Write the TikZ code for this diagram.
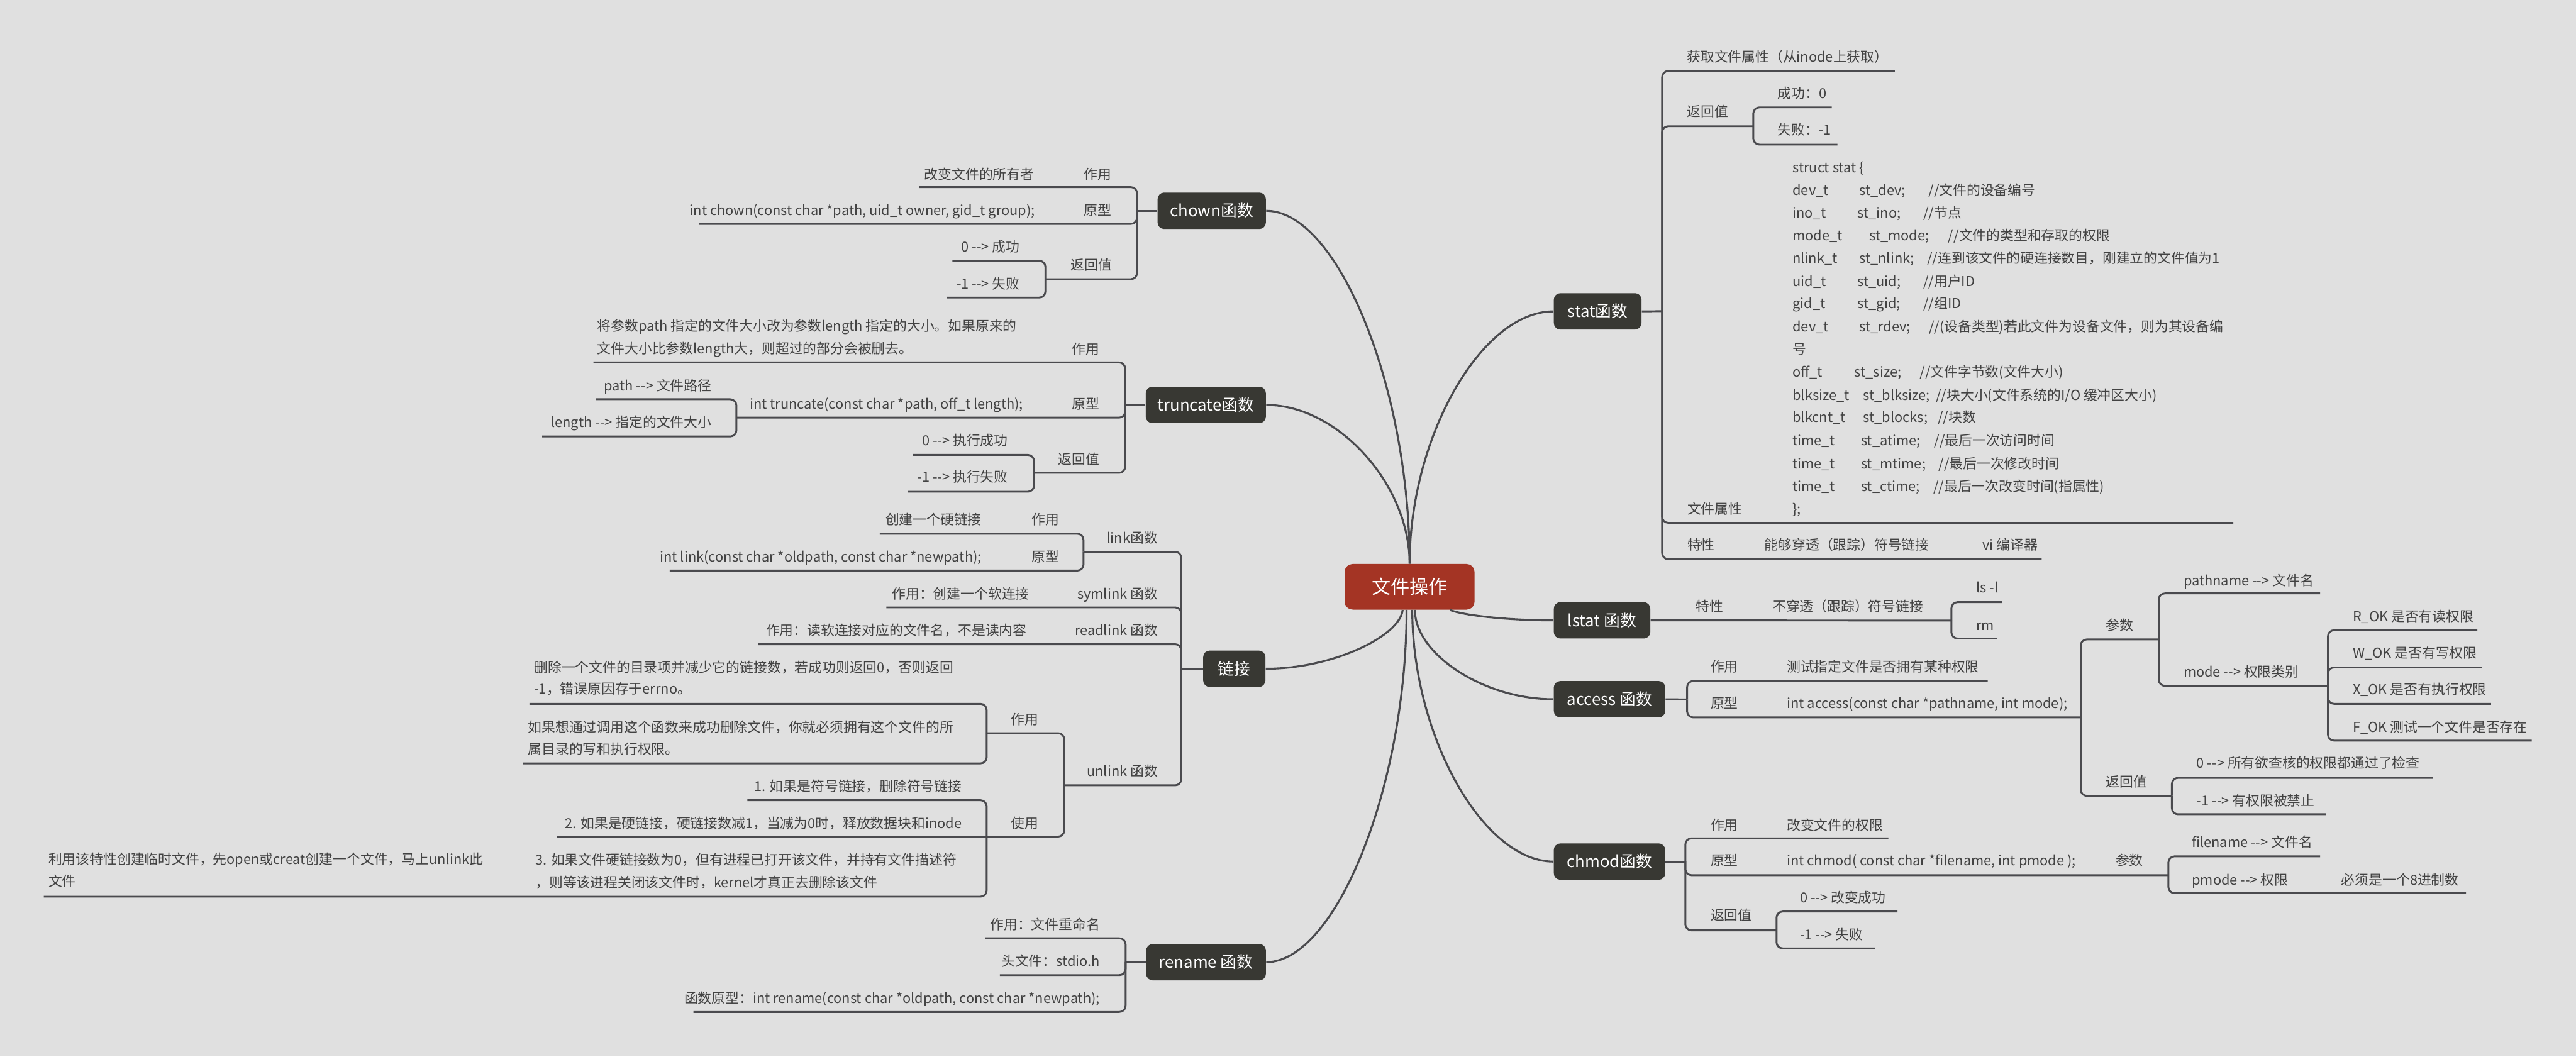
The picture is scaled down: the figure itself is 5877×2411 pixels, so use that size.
\documentclass[tikz,border=0pt]{standalone}
\usepackage{fontspec}
\setmainfont{Noto Sans CJK SC}[Ligatures=TeXOff]
\usetikzlibrary{calc}
\definecolor{bgc}{RGB}{224,224,224}
\definecolor{linec}{RGB}{74,74,78}
\definecolor{nodec}{RGB}{56,56,51}
\definecolor{rootc}{RGB}{164,52,36}
\definecolor{txtc}{RGB}{66,66,66}
\tikzset{
 txt/.style={inner sep=0pt, text=txtc, font=\fontsize{8.9pt}{11pt}\selectfont},
 topic/.style={fill=nodec, rounded corners=0.15cm, text=white, font=\fontsize{10.5pt}{12pt}\selectfont, minimum height=0.83cm, inner sep=0pt},
 rootn/.style={fill=rootc, rounded corners=0.18cm, text=white, font=\fontsize{12.3pt}{14pt}\selectfont, minimum width=2.96cm, minimum height=1.04cm, inner sep=0pt},
 ln/.style={draw=linec, line width=0.042cm, rounded corners=0.14cm},
 crv/.style={draw=linec, line width=0.045cm},
}
\newcommand\rtx[4]{\node[txt,anchor=base west] (#1) at (#2,{#3+12}) {#4};}
\newcommand\ltx[4]{\node[txt,anchor=base east] (#1) at (#2,{#3+12}) {#4};}
\newcommand\kidl[4]{\draw[ln] (#1,#2) -- (#1,#3) -- (#4,#3);}
\newcommand\stl[7]{\node[txt,anchor=base west] (#1) at (4089,{#2+12}) {\makebox[#3cm][l]{#4}\makebox[#5cm][l]{#6}#7};}
\begin{document}
\begin{tikzpicture}[x=0.01cm,y=-0.01cm]
\useasboundingbox (0,0) rectangle (5877,2411);
\fill[bgc] (0,0) rectangle (5877,2411);

% main nodes
\node[rootn] (root) at (3216,1339) {文件操作};
\node[topic, minimum width=2.00cm] (stat) at (3645,710.5) {stat函数};
\node[topic, minimum width=2.20cm] (lstat) at (3655,1415.5) {lstat 函数};
\node[topic, minimum width=2.54cm] (access) at (3672,1595.5) {access 函数};
\node[topic, minimum width=2.54cm] (chmod) at (3672,1966) {chmod函数};
\node[topic, minimum width=2.47cm] (chown) at (2764.5,481) {chown函数};
\node[topic, minimum width=2.74cm] (trunc) at (2751,924) {truncate函数};
\node[topic, minimum width=1.42cm] (link) at (2816,1526) {链接};
\node[topic, minimum width=2.73cm] (rename) at (2751.5,2195.5) {rename 函数};

% curves from root
\draw[crv] (root.north) .. controls (3216,997) and (3380,710) .. (stat.west);
\draw[crv] (root.north) .. controls (3216,884) and (3052,481) .. (chown.east);
\draw[crv] (root.north) .. controls (3216,1105) and (3052,924) .. (trunc.east);
\draw[crv] ($(root.south)+(-16,0)$) .. controls (3195,1450) and (3043,1526) .. (link.east);
\draw[crv] ($(root.south)+(-7,0)$) .. controls (3209,1793) and (3048,2195) .. (rename.east);
\draw[crv] ($(root.south)+(12,0)$) .. controls (3228,1493) and (3386,1596) .. (access.west);
\draw[crv] ($(root.south)+(6,0)$) .. controls (3222,1678) and (3383,1966) .. (chmod.west);
\draw[crv] ($(root.south)+(92,0)$) .. controls (3340,1405) and (3450,1416) .. (lstat.west);

% ---------- stat ----------
\draw[ln] (stat.east) -- (3792,710);
\kidl{3792}{710}{162}{4323}
\kidl{3792}{710}{288}{4000}
\kidl{3792}{710}{1193}{5095}
\kidl{3792}{710}{1276}{4658}
\kidl{4000}{288}{245}{4179}
\kidl{4000}{288}{330}{4192}
\rtx{s1}{3848}{129}{获取文件属性（从inode上获取）}
\rtx{s2}{3848}{254}{返回值}
\rtx{s21}{4055}{212}{成功：0}
\rtx{s22}{4055}{296}{失败：-1}
\rtx{s3}{3849}{1161}{文件属性}
\rtx{st0}{4089}{382}{struct stat \{}
\stl{st1}{434}{1.52}{dev\_t}{1.58}{st\_dev;}{//文件的设备编号}
\stl{st2}{485}{1.48}{ino\_t}{1.50}{st\_ino;}{//节点}
\stl{st3}{537}{1.75}{mode\_t}{1.80}{st\_mode;}{//文件的类型和存取的权限}
\stl{st4}{589}{1.52}{nlink\_t}{1.55}{st\_nlink;}{//连到该文件的硬连接数目，刚建立的文件值为1}
\stl{st5}{641}{1.48}{uid\_t}{1.50}{st\_uid;}{//用户ID}
\stl{st6}{692}{1.48}{gid\_t}{1.50}{st\_gid;}{//组ID}
\stl{st7}{745}{1.52}{dev\_t}{1.59}{st\_rdev;}{//(设备类型)若此文件为设备文件，则为其设备编}
\rtx{st8}{4089}{796}{号}
\stl{st9}{848}{1.41}{off\_t}{1.49}{st\_size;}{//文件字节数(文件大小)}
\stl{st10}{901}{1.61}{blksize\_t}{1.66}{st\_blksize;}{//块大小(文件系统的I/O 缓冲区大小)}
\stl{st11}{952}{1.61}{blkcnt\_t}{1.70}{st\_blocks;}{//块数}
\stl{st12}{1005}{1.56}{time\_t}{1.67}{st\_atime;}{//最后一次访问时间}
\stl{st13}{1057}{1.56}{time\_t}{1.77}{st\_mtime;}{//最后一次修改时间}
\stl{st14}{1109}{1.56}{time\_t}{1.65}{st\_ctime;}{//最后一次改变时间(指属性)}
\rtx{st15}{4089}{1161}{\};}
\rtx{s4}{3849}{1243}{特性}
\rtx{s41}{4025}{1243}{能够穿透（跟踪）符号链接}
\rtx{s42}{4522}{1243}{vi 编译器}

% ---------- lstat ----------
\draw[ln] (lstat.east) -- (4452,1416);
\kidl{4452}{1416}{1374}{4568}
\kidl{4452}{1416}{1457}{4556}
\rtx{l1}{3868}{1384}{特性}
\rtx{l11}{4043}{1384}{不穿透（跟踪）符号链接}
\rtx{l2}{4508}{1341}{ls -l}
\rtx{l3}{4508}{1426}{rm}

% ---------- access ----------
\draw[ln] (access.east) -- (3849,1596);
\kidl{3849}{1596}{1554}{4535}
\kidl{3849}{1596}{1637}{4747}
\kidl{4747}{1637}{1459}{4925}
\kidl{4747}{1637}{1816}{4955}
\kidl{4925}{1459}{1354}{5293}
\kidl{4925}{1459}{1565}{5311}
\kidl{5311}{1565}{1438}{5652}
\kidl{5311}{1565}{1523}{5663}
\kidl{5311}{1565}{1606}{5683}
\kidl{5311}{1565}{1690}{5776}
\kidl{4955}{1816}{1775}{5550}
\kidl{4955}{1816}{1858}{5306}
\rtx{a1}{3902}{1521}{作用}
\rtx{a11}{4076}{1521}{测试指定文件是否拥有某种权限}
\rtx{a2}{3902}{1605}{原型}
\rtx{a21}{4076}{1605}{int access(const char *pathname, int mode);}
\rtx{a3}{4804}{1426}{参数}
\rtx{a31}{4981}{1325}{pathname --> 文件名}
\rtx{a32}{4981}{1532}{mode --> 权限类别}
\rtx{a4}{5367}{1407}{R\_OK 是否有读权限}
\rtx{a5}{5367}{1489}{W\_OK 是否有写权限}
\rtx{a6}{5367}{1573}{X\_OK 是否有执行权限}
\rtx{a7}{5367}{1659}{F\_OK 测试一个文件是否存在}
\rtx{a8}{4804}{1784}{返回值}
\rtx{a81}{5011}{1741}{0 --> 所有欲查核的权限都通过了检查}
\rtx{a82}{5011}{1827}{-1 --> 有权限被禁止}

% ---------- chmod ----------
\draw[ln] (chmod.east) -- (3845,1966);
\kidl{3845}{1966}{1913}{4308}
\kidl{3845}{1966}{1997}{4947}
\kidl{3845}{1966}{2123}{4053}
\kidl{4947}{1997}{1954}{5293}
\kidl{4947}{1997}{2038}{5626}
\kidl{4053}{2123}{2080}{4329}
\kidl{4053}{2123}{2164}{4277}
\rtx{c1}{3902}{1882}{作用}
\rtx{c11}{4076}{1882}{改变文件的权限}
\rtx{c2}{3902}{1963}{原型}
\rtx{c21}{4076}{1963}{int chmod( const char *filename, int pmode );}
\rtx{c22}{4826}{1963}{参数}
\rtx{c3}{5000}{1922}{filename --> 文件名}
\rtx{c4}{5000}{2007}{pmode --> 权限}
\rtx{c41}{5341}{2007}{必须是一个8进制数}
\rtx{c5}{3902}{2088}{返回值}
\rtx{c51}{4106}{2048}{0 --> 改变成功}
\rtx{c52}{4106}{2133}{-1 --> 失败}

% ---------- chown ----------
\draw[ln] (chown.west) -- (2594,481);
\kidl{2594}{481}{427}{2097}
\kidl{2594}{481}{511}{1595}
\kidl{2594}{481}{637}{2385}
\kidl{2385}{637}{595}{2173}
\kidl{2385}{637}{679}{2161}
\ltx{o1}{2536}{397}{作用}
\ltx{o11}{2360}{397}{改变文件的所有者}
\ltx{o2}{2536}{480}{原型}
\ltx{o21}{2362}{480}{int chown(const char *path, uid\_t owner, gid\_t group);}
\ltx{o3}{2538}{604}{返回值}
\ltx{o31}{2327}{563}{0 --> 成功}
\ltx{o32}{2327}{647}{-1 --> 失败}

% ---------- truncate ----------
\draw[ln] (trunc.west) -- (2567,924);
\kidl{2567}{924}{827}{1354}
\kidl{2567}{924}{953}{1680}
\kidl{2567}{924}{1079}{2359}
\kidl{1680}{953}{911}{1359}
\kidl{1680}{953}{996}{1237}
\kidl{2359}{1079}{1038}{2082}
\kidl{2359}{1079}{1122}{2071}
\ltx{u1}{2509}{797}{作用}
\rtx{u11a}{1362}{743}{将参数path 指定的文件大小改为参数length 指定的大小。如果原来的}
\rtx{u11b}{1362}{795}{文件大小比参数length大，则超过的部分会被删去。}
\ltx{u2}{2509}{922}{原型}
\ltx{u21}{2335}{922}{int truncate(const char *path, off\_t length);}
\ltx{u3}{1624}{880}{path --> 文件路径}
\ltx{u4}{1624}{963}{length --> 指定的文件大小}
\ltx{u5}{2509}{1047}{返回值}
\ltx{u51}{2300}{1005}{0 --> 执行成功}
\ltx{u52}{2300}{1088}{-1 --> 执行失败}

% ---------- link ----------
\draw[ln] (link.west) -- (2695,1526);
\kidl{2695}{1526}{1259}{2472}
\kidl{2695}{1526}{1386}{2022}
\kidl{2695}{1526}{1470}{1729}
\kidl{2695}{1526}{1792}{2428}
\kidl{2472}{1259}{1218}{2007}
\kidl{2472}{1259}{1302}{1528}
\kidl{2428}{1792}{1673}{2251}
\kidl{2428}{1792}{1909}{2251}
\kidl{2251}{1673}{1606}{1208}
\kidl{2251}{1673}{1742}{1194}
\kidl{2251}{1909}{1826}{1705}
\draw[ln] (2251,1909) -- (1270,1909);
\kidl{2251}{1909}{2046}{100}
\ltx{k1}{2642}{1227}{link函数}
\ltx{k11}{2417}{1185}{作用}
\ltx{k111}{2240}{1185}{创建一个硬链接}
\ltx{k12}{2417}{1270}{原型}
\ltx{k121}{2240}{1270}{int link(const char *oldpath, const char *newpath);}
\ltx{k2}{2642}{1355}{symlink 函数}
\ltx{k21}{2349}{1355}{作用：创建一个软连接}
\ltx{k3}{2642}{1438}{readlink 函数}
\ltx{k31}{2343}{1438}{作用：读软连接对应的文件名，不是读内容}
\ltx{k4}{2642}{1759}{unlink 函数}
\ltx{k41}{2370}{1641}{作用}
\ltx{k42}{2370}{1878}{使用}
\rtx{k5a}{1218}{1523}{删除一个文件的目录项并减少它的链接数，若成功则返回0，否则返回}
\rtx{k5b}{1218}{1572}{-1，错误原因存于errno。}
\rtx{k6a}{1204}{1659}{如果想通过调用这个函数来成功删除文件，你就必须拥有这个文件的所}
\rtx{k6b}{1204}{1709}{属目录的写和执行权限。}
\ltx{k7}{2195}{1793}{1. 如果是符号链接，删除符号链接}
\ltx{k8}{2195}{1878}{2. 如果是硬链接，硬链接数减1，当减为0时，释放数据块和inode}
\rtx{k9a}{1221}{1961}{3. 如果文件硬链接数为0，但有进程已打开该文件，并持有文件描述符}
\rtx{k9b}{1221}{2013}{，则等该进程关闭该文件时，kernel才真正去删除该文件}
\rtx{k10a}{110}{1960}{利用该特性创建临时文件，先open或creat创建一个文件，马上unlink此}
\rtx{k10b}{110}{2010}{文件}

% ---------- rename ----------
\draw[ln] (rename.west) -- (2568,2195);
\kidl{2568}{2195}{2141}{2247}
\kidl{2568}{2195}{2225}{2281}
\kidl{2568}{2195}{2309}{1582}
\ltx{r1}{2510}{2110}{作用：文件重命名}
\ltx{r2}{2510}{2193}{头文件：stdio.h}
\ltx{r3}{2510}{2277}{函数原型：int rename(const char *oldpath, const char *newpath);}
\end{tikzpicture}
\end{document}
